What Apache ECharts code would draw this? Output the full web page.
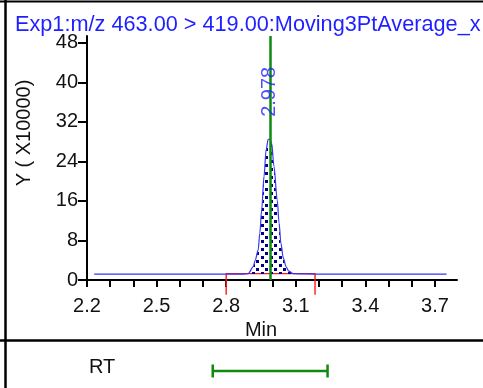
<!DOCTYPE html>
<html>
<head>
<meta charset="utf-8">
<script src="https://cdn.jsdelivr.net/npm/echarts@6/dist/echarts.min.js"></script>
<style>
html,body{margin:0;padding:0;background:#fff;}
#chart{width:483px;height:388px;}
</style>
</head>
<body>
<div id="chart"></div>
<script>
// chromatogram trace (time in min, intensity in X10000)
var traceTime = [2.231, 2.4, 2.6, 2.8, 2.87, 2.895, 2.917, 2.925, 2.938, 2.945, 2.953, 2.963, 2.972, 2.981, 2.988, 2.996, 3.006, 3.020, 3.028, 3.036, 3.046, 3.058, 3.070, 3.089, 3.2, 3.4, 3.6, 3.75];
var traceY    = [1.2,   1.2, 1.2, 1.2, 1.2,  1.3,   2.7,   4.0,   6.1,   9.5,   14.2,  20.9,  26.3,  28.5,  28.5,  27.7,  23.0,  16.2,  11.5,  7.4,   4.5,   2.7,   1.8,   1.3,   1.2, 1.2, 1.2, 1.2];

var peakPos = 2.988;
var peakText = '2.978';
var integTime = [2.8, 2.8, 3.183, 3.183];
var integY    = [-3.0, 1.3, 1.3, -3.0];
var rtTime = [2.742, 3.237];

var xTicks = [2.2, 2.3, 2.4, 2.5, 2.6, 2.7, 2.8, 2.9, 3.0, 3.1, 3.2, 3.3, 3.4, 3.5, 3.6, 3.7];
var xLabels = [2.2, 2.5, 2.8, 3.1, 3.4, 3.7];
var yTicks = [0, 8, 16, 24, 32, 40, 48];

var FONT = 'Liberation Sans, Arial, sans-serif';
var BLUE = '#1f1fff';
var GREEN = '#0f8a0f';

function zip(a, b) {
	var out = [];
	for (var i = 0; i < a.length; i++) out.push([a[i], b[i]]);
	return out;
}

// dotted fill under the peak
var dots = document.createElement('canvas');
dots.width = 9;
dots.height = 8;
var dctx = dots.getContext('2d');
dctx.fillStyle = '#00008b';
dctx.fillRect(0, 0, 3, 3);
dctx.fillRect(4, 4, 3, 3);

var myChart = echarts.init(document.getElementById('chart'));

var option = {
	animation: false,
	textStyle: { fontFamily: FONT },
	title: {
		text: 'Exp1:m/z 463.00 > 419.00:Moving3PtAverage_x',
		left: 10,
		top: 9,
		textStyle: { color: BLUE, fontSize: 21.7, fontWeight: 'normal', fontFamily: FONT }
	},
	grid: [
		{ left: 87, right: 26, top: 36, bottom: 108, outerBoundsMode: 'none' },
		{ left: 87, right: 26, top: 358, height: 26, outerBoundsMode: 'none' }
	],
	xAxis: [
		{
			type: 'value',
			min: 2.2,
			max: 3.795,
			name: 'Min',
			nameLocation: 'middle',
			nameGap: 38,
			nameTextStyle: { color: '#111', fontSize: 20, padding: [0, 22, 0, 0] },
			axisLine: { show: true, lineStyle: { color: '#000', width: 2 } },
			axisTick: { show: true, customValues: xTicks, length: 7, lineStyle: { color: '#000', width: 2 } },
			axisLabel: {
				customValues: xLabels,
				margin: 16,
				color: '#111',
				fontSize: 20,
				formatter: function (v) { return v.toFixed(1); }
			},
			splitLine: { show: false }
		},
		{ type: 'value', gridIndex: 1, min: 2.2, max: 3.795, show: false }
	],
	yAxis: [
		{
			type: 'value',
			min: 0,
			max: 49.4,
			name: 'Y ( X10000)',
			nameLocation: 'middle',
			nameRotate: 90,
			nameGap: 53,
			nameTextStyle: { color: '#111', fontSize: 20, padding: [0, 0, 0, 50] },
			axisLine: { show: true, lineStyle: { color: '#000', width: 2 } },
			axisTick: { show: true, customValues: yTicks, length: 9, lineStyle: { color: '#000', width: 2 } },
			axisLabel: { customValues: yTicks, margin: 9, color: '#111', fontSize: 20 },
			splitLine: { show: false }
		},
		{ type: 'value', gridIndex: 1, min: 0, max: 1, show: false }
	],
	series: [
		{
			name: 'trace',
			type: 'line',
			data: zip(traceTime, traceY),
			symbol: 'none',
			smooth: 0.3,
			smoothMonotone: 'x',
			lineStyle: { color: '#3636f0', width: 1.2 },
			areaStyle: { color: { image: dots, repeat: 'repeat' }, origin: 1.2, opacity: 1 },
			markLine: {
				silent: true,
				symbol: 'none',
				label: { show: false },
				lineStyle: { color: GREEN, width: 2.5, type: 'solid' },
				data: [{ xAxis: peakPos }]
			},
			z: 3
		},
		{
			name: 'integration',
			type: 'line',
			data: zip(integTime, integY),
			symbol: 'none',
			clip: false,
			lineStyle: { color: '#ff1a1a', width: 1.4 },
			z: 2
		},
		{
			name: 'peakLabel',
			type: 'scatter',
			data: [[peakPos, 38.1]],
			symbolSize: 0,
			label: {
				show: true,
				position: 'inside',
				rotate: 90,
				formatter: peakText,
				color: BLUE,
				fontSize: 20
			},
			z: 5
		},
		{
			name: 'RT',
			type: 'line',
			xAxisIndex: 1,
			yAxisIndex: 1,
			data: zip(rtTime, [0.5, 0.5]),
			symbol: 'rect',
			symbolSize: [2.5, 13],
			showSymbol: true,
			itemStyle: { color: GREEN },
			lineStyle: { color: GREEN, width: 2.5 }
		}
	],
	graphic: [
		{ type: 'line', shape: { x1: 5.5, y1: 0, x2: 5.5, y2: 388 }, style: { stroke: '#000', lineWidth: 2.5 } },
		{ type: 'line', shape: { x1: 0, y1: 1.5, x2: 483, y2: 1.5 }, style: { stroke: '#000', lineWidth: 2 } },
		{ type: 'line', shape: { x1: 0, y1: 340.5, x2: 483, y2: 340.5 }, style: { stroke: '#000', lineWidth: 2.5 } },
		{ type: 'text', left: 89, top: 357, style: { text: 'RT', fontSize: 20, fill: '#111', font: '20px ' + FONT } }
	]
};

myChart.setOption(option);
</script>
</body>
</html>
